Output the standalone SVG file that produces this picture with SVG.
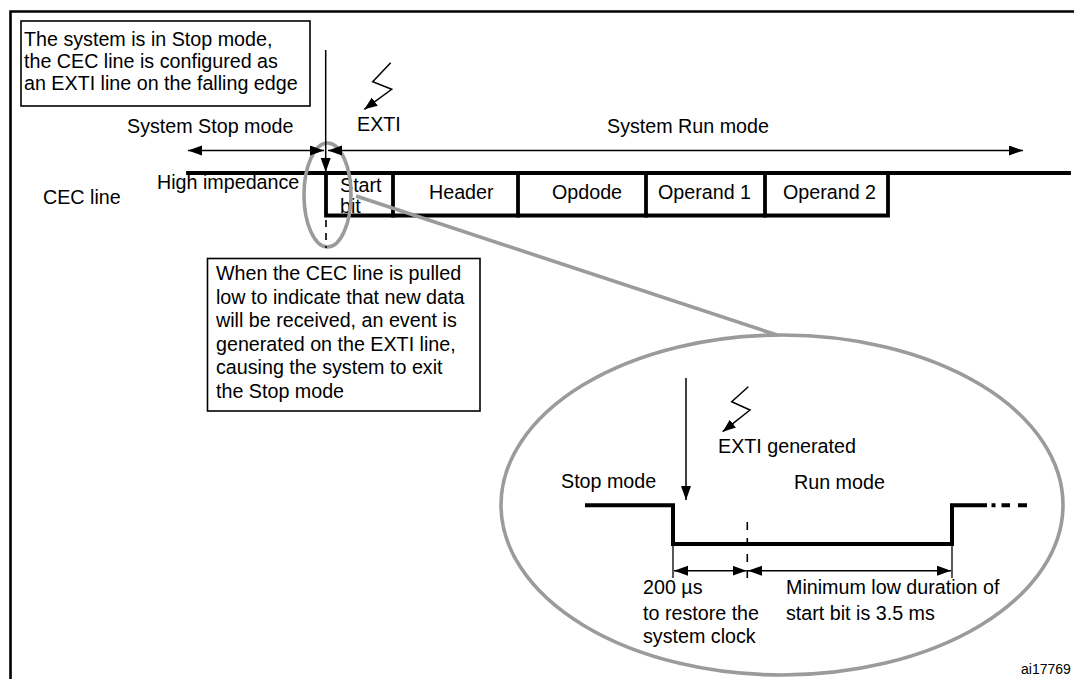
<svg xmlns="http://www.w3.org/2000/svg" width="1074" height="679" viewBox="0 0 1074 679">
<style>
text{font-family:"Liberation Sans",Arial,sans-serif;font-size:19.7px;fill:#000}
.thin{stroke:#000;stroke-width:1.5;fill:none}
.box{stroke:#000;stroke-width:1.6;fill:#fff}
.sig{stroke:#000;stroke-width:3.8;fill:none;stroke-linecap:square}
.gray{stroke:#9b9b9b;stroke-width:3.6;fill:none}
.dash{stroke:#000;stroke-width:1.6;fill:none;stroke-dasharray:7 6}
</style>
<defs>
<marker id="ah" markerUnits="userSpaceOnUse" markerWidth="15" markerHeight="11" refX="14" refY="5" orient="auto-start-reverse"><path d="M0,0 L14,5 L0,10 z" fill="#000"/></marker>
<marker id="ahs" markerUnits="userSpaceOnUse" markerWidth="14" markerHeight="11" refX="13" refY="5" orient="auto"><path d="M0,0 L13,5 L0,10 z" fill="#000"/></marker>
</defs>
<rect width="1074" height="679" fill="#fff"/>
<g id="frame"><path d="M10.5,679 V11.5 H1074" stroke="#000" stroke-width="2.6" fill="none"/></g>

<g id="note-stop">
<rect class="box" x="21" y="21" width="289" height="85"/>
<text x="24" y="45.5">The system is in Stop mode,</text>
<text x="24" y="67.5">the CEC line is configured as</text>
<text x="24" y="89.5">an EXTI line on the falling edge</text>
</g>

<g id="exti-top">
<path class="thin" d="M390.7,62.7 L372.7,81.7 L391.7,89.3 L364.3,109.3" marker-end="url(#ahs)"/>
<text x="357" y="131">EXTI</text>
</g>

<g id="mode-labels">
<text x="127" y="133">System Stop mode</text>
<text x="607" y="133">System Run mode</text>
</g>

<g id="cec-line">
<text x="43" y="204">CEC line</text>
<text x="157" y="189">High impedance</text>
<text x="340" y="191.5">Start</text>
<text x="340" y="213">bit</text>
<text x="429" y="199">Header</text>
<text x="552" y="199">Opdode</text>
<text x="658" y="199">Operand 1</text>
<text x="783" y="199">Operand 2</text>
<path class="sig" d="M188,173 H1069"/>
<path class="sig" d="M326,173 V215.5 H888 V173"/>
<path class="sig" d="M393,173 V215.5 M518,173 V215.5 M646,173 V215.5 M765,173 V215.5"/>
</g>

<g id="zoom-ellipses">
<ellipse class="gray" cx="327.5" cy="195" rx="23.5" ry="52"/>
<ellipse class="gray" cx="782" cy="505" rx="281" ry="170"/>
</g>

<g id="note-exti">
<rect class="box" x="207.5" y="258.5" width="272.5" height="152.5"/>
<text x="216" y="280">When the CEC line is pulled</text>
<text x="216" y="303.5">low to indicate that new data</text>
<text x="216" y="327">will be received, an event is</text>
<text x="216" y="350.5">generated on the EXTI line,</text>
<text x="216" y="374">causing the system to exit</text>
<text x="216" y="397.5">the Stop mode</text>
</g>

<g id="detail">
<path class="thin" d="M748.3,386.7 L731.7,401.7 L750,410 L722.7,431.7" marker-end="url(#ahs)"/>
<text x="718" y="453">EXTI generated</text>
<text x="561" y="488">Stop mode</text>
<text x="794" y="489">Run mode</text>
<path d="M585,505.3 H673 V544 H952 V505.3 H987" stroke="#000" stroke-width="4" fill="none"/>
<path d="M991.5,505.3 H995.5 M1001.5,505.3 H1010 M1018,505.3 H1027" stroke="#000" stroke-width="4" fill="none"/>
<path d="M673,544 V578 M952,544 V578" stroke="#000" stroke-width="1.3" fill="none"/>
<text x="643" y="594">200 µs</text>
<text x="643" y="620">to restore the</text>
<text x="643" y="643">system clock</text>
<text x="786" y="594">Minimum low duration of</text>
<text x="786" y="620">start bit is 3.5 ms</text>
</g>

<g id="connectors">
<line class="thin" x1="325.7" y1="50" x2="325.7" y2="172" marker-end="url(#ah)"/>
<line class="thin" x1="188" y1="150.5" x2="324" y2="150.5" marker-start="url(#ah)" marker-end="url(#ah)"/>
<line class="thin" x1="328" y1="150.5" x2="1023" y2="150.5" marker-start="url(#ah)" marker-end="url(#ah)"/>
<line class="dash" x1="326" y1="220" x2="326" y2="248"/>
<line class="gray" x1="356" y1="196" x2="777" y2="335"/>
<line class="thin" x1="686" y1="378" x2="686" y2="500" marker-end="url(#ah)"/>
<line class="dash" x1="747.3" y1="522" x2="747.3" y2="579" style="stroke-dasharray:8 8"/>
<line class="thin" x1="674" y1="570.7" x2="746.5" y2="570.7" marker-start="url(#ah)" marker-end="url(#ah)"/>
<line class="thin" x1="748" y1="570.7" x2="951" y2="570.7" marker-start="url(#ah)" marker-end="url(#ah)"/>
</g>

<g id="ref"><text x="1021" y="674" style="font-size:14px">ai17769</text></g>
</svg>
